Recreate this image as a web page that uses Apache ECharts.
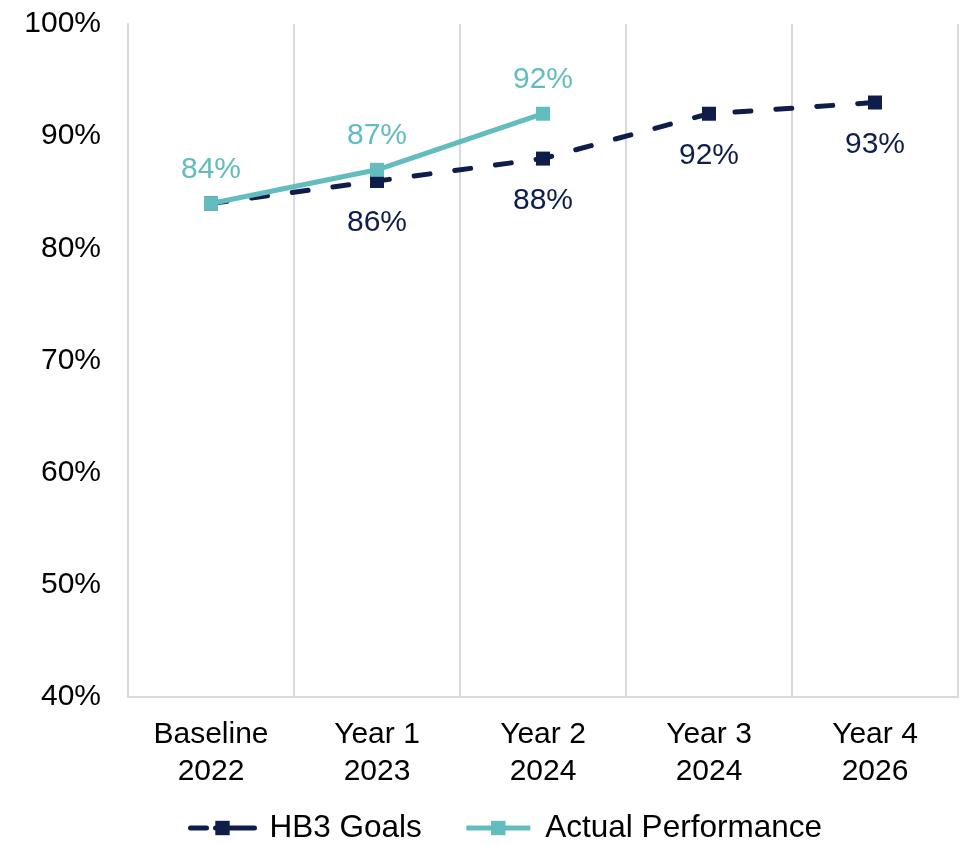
<!DOCTYPE html>
<html>
<head>
<meta charset="utf-8">
<script src="https://cdn.jsdelivr.net/npm/echarts@6/dist/echarts.min.js"></script>
<style>
  html, body { margin: 0; padding: 0; background: #fff; }
  #chart { width: 960px; height: 845px; }
</style>
</head>
<body>
<div id="chart"></div>
<script>
  // data
  var categories = ['Baseline\n2022', 'Year 1\n2023', 'Year 2\n2024', 'Year 3\n2024', 'Year 4\n2026'];
  var goalValues = [84, 86, 88, 92, 93];
  var actualValues = [84, 87, 92];
  var yTicks = [40, 50, 60, 70, 80, 90, 100];

  var navy = '#0F1D4A';
  var teal = '#63BCBE';
  var font = 'Liberation Sans, Arial, sans-serif';
  var fs = 30;

  // first goal label sits under the actual label, so hide it
  var goalData = goalValues.map(function (v, i) {
    return i === 0 ? { value: v, label: { show: false } } : v;
  });

  var chart = echarts.init(document.getElementById('chart'));
  chart.setOption({
    animation: false,
    grid: { left: 128, right: 2, top: 24, bottom: 148 },
    legend: {
      bottom: -4,
      left: 183,
      itemWidth: 64,
      itemHeight: 18,
      itemGap: 42,
      textStyle: { fontFamily: font, fontSize: 31.5, color: '#000', padding: [0, 0, 0, 10] },
      lineStyle: { width: 5 },
      data: [
        { name: 'HB3 Goals', lineStyle: { type: [16, 9, 100, 0], cap: 'round', width: 5 } },
        { name: 'Actual Performance' }
      ]
    },
    xAxis: {
      type: 'category',
      data: categories,
      boundaryGap: true,
      axisLine: { lineStyle: { color: '#D9D9D9', width: 2 } },
      axisTick: { show: false },
      splitLine: { show: true, lineStyle: { color: '#D9D9D9', width: 2 } },
      axisLabel: {
        margin: 19,
        fontFamily: font,
        fontSize: fs,
        color: '#000',
        lineHeight: 37
      }
    },
    yAxis: {
      type: 'value',
      min: yTicks[0],
      max: yTicks[yTicks.length - 1],
      interval: 10,
      axisLine: { show: true, lineStyle: { color: '#D9D9D9', width: 2 } },
      axisTick: { show: false },
      splitLine: { show: false },
      axisLabel: {
        margin: 27,
        fontFamily: font,
        fontSize: fs,
        color: '#000',
        formatter: '{value}%'
      }
    },
    series: [
      {
        name: 'HB3 Goals',
        type: 'line',
        data: goalData,
        symbol: 'rect',
        symbolSize: 14,
        itemStyle: { color: navy },
        lineStyle: { color: navy, width: 5, type: [16, 25], cap: 'round' },
        label: {
          show: true,
          position: 'bottom',
          distance: 20,
          formatter: '{c}%',
          fontFamily: font,
          fontSize: fs,
          color: navy
        },
        z: 2
      },
      {
        name: 'Actual Performance',
        type: 'line',
        data: actualValues,
        symbol: 'rect',
        symbolSize: 14,
        itemStyle: { color: teal },
        lineStyle: { color: teal, width: 5 },
        label: {
          show: true,
          position: 'top',
          distance: 12,
          formatter: '{c}%',
          fontFamily: font,
          fontSize: fs,
          color: teal
        },
        z: 3
      }
    ]
  });
</script>
</body>
</html>
